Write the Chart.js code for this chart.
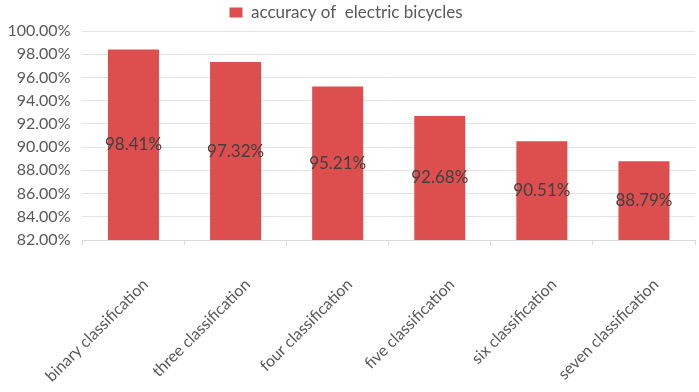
<!DOCTYPE html>
<html lang="en">
<head>
  <meta charset="UTF-8">
  <title>Accuracy of electric bicycles</title>
  <script src="https://cdn.jsdelivr.net/npm/chart.js"></script>
  <style>
    html, body { margin: 0; padding: 0; background: #fff; }
    #wrap { width: 699px; height: 392px; }
  </style>
</head>
<body>
  <div id="wrap"><canvas id="accChart" width="699" height="392"></canvas></div>

  <script>
    const categories = ["binary classification", "three classification", "four classification",
                        "five classification", "six classification", "seven classification"];
    const accuracy = [98.41, 97.32, 95.21, 92.68, 90.51, 88.79];
    const seriesName = "accuracy of  electric bicycles";
    const yMin = 82, yMax = 100, yStep = 2;

    const FONT = "Lato, 'Open Sans', sans-serif";

    // value text drawn in the middle of the visible part of each bar
    const midLabels = {
      id: "midLabels",
      afterDatasetsDraw(chart) {
        const ctx = chart.ctx;
        const meta = chart.getDatasetMeta(0);
        const vals = chart.data.datasets[0].data;
        const bottom = chart.chartArea.bottom;
        ctx.save();
        ctx.font = "17px " + FONT;
        ctx.fillStyle = "#404040";
        ctx.textAlign = "center";
        ctx.textBaseline = "middle";
        meta.data.forEach((bar, i) => {
          const base = Math.min(bar.base, bottom);
          ctx.fillText(Number(vals[i]).toFixed(2) + "%", bar.x, (bar.y + base) / 2);
        });
        ctx.restore();
      }
    };

    new Chart(document.getElementById("accChart"), {
      type: "bar",
      data: {
        labels: categories,
        datasets: [{
          label: seriesName,
          data: accuracy,
          backgroundColor: "#dd4f4f",
          barPercentage: 0.5,
          categoryPercentage: 1.0
        }]
      },
      options: {
        responsive: false,
        animation: false,
        layout: { padding: { left: -3, right: 4, top: 0, bottom: 0 } },
        plugins: {
          legend: {
            position: "top",
            labels: {
              font: { family: FONT, size: 17 },
              color: "#595959",
              boxWidth: 13,
              boxHeight: 10,
              padding: 4
            }
          },
          tooltip: { enabled: false }
        },
        scales: {
          x: {
            grid: {
              offset: true,
              drawOnChartArea: false,
              color: "#d9d9d9",
              tickLength: 5
            },
            border: { color: "#d9d9d9" },
            ticks: {
              font: { family: FONT, size: 16 },
              color: "#595959",
              minRotation: 45,
              maxRotation: 45,
              padding: 30,
              labelOffset: 12
            },
            afterFit(scale) { scale.height = 152; }
          },
          y: {
            min: yMin,
            max: yMax,
            grid: { color: "#e3e3e3", drawTicks: false },
            border: { display: false },
            ticks: {
              stepSize: yStep,
              font: { family: FONT, size: 16 },
              color: "#595959",
              padding: 12,
              callback: v => v.toFixed(2) + "%"
            },
            afterFit(scale) { scale.width = 79; }
          }
        }
      },
      plugins: [midLabels]
    });
  </script>
</body>
</html>
